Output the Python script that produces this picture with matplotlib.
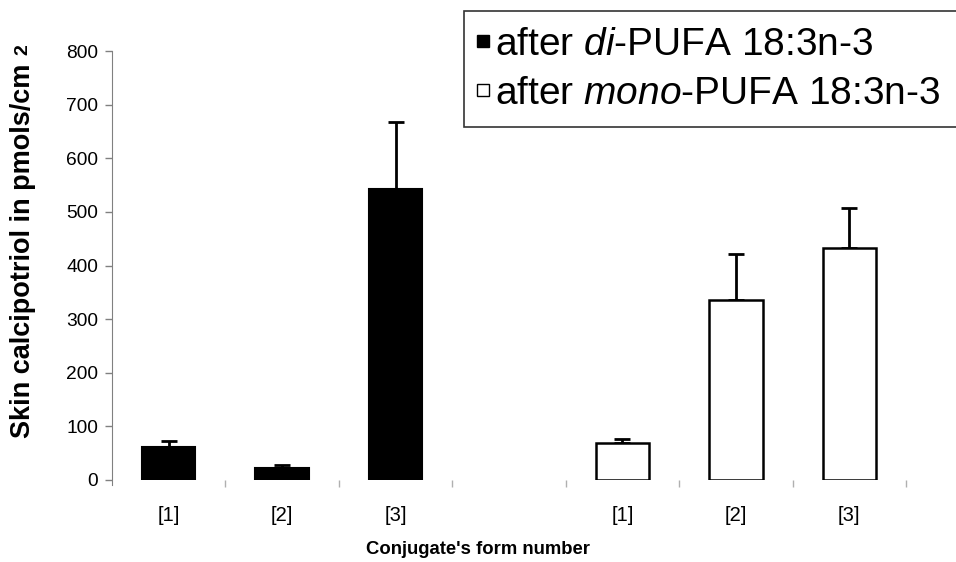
import matplotlib
matplotlib.use("Agg")
import matplotlib.pyplot as plt
from matplotlib.lines import Line2D
import numpy as np

plt.rcParams['font.family'] = ['Liberation Sans', 'DejaVu Sans']
plt.rcParams['mathtext.fontset'] = 'custom'
plt.rcParams['mathtext.it'] = 'Liberation Sans:italic'
plt.rcParams['mathtext.rm'] = 'Liberation Sans'

# data
forms = ['[1]', '[2]', '[3]']
di_vals = [62, 22, 542]
di_err = [11, 6, 126]
mono_vals = [69, 335, 433]
mono_err = [8, 86, 75]

fig = plt.figure(figsize=(9.56, 5.62), dpi=100)
ax = fig.add_axes([112/956, 1-480/562, 794/956, 429/562])

x_di = np.arange(3)
x_mono = np.arange(3) + 4
bw = 0.47

ax.bar(x_di, di_vals, width=bw, color='black', edgecolor='black', linewidth=1.5, zorder=2)
ax.bar(x_mono, mono_vals, width=bw, color='white', edgecolor='black', linewidth=1.8, zorder=2)
ax.errorbar(x_di, di_vals, yerr=[np.zeros(3), di_err], fmt='none', ecolor='black',
            elinewidth=2, capsize=5.8, capthick=2, zorder=1)
ax.errorbar(x_mono, mono_vals, yerr=[np.zeros(3), mono_err], fmt='none', ecolor='black',
            elinewidth=2, capsize=5.8, capthick=2, zorder=1)

ax.set_xlim(-0.5, 6.5)
ax.set_ylim(0, 800)
ax.set_yticks(np.arange(0, 801, 100))
ax.tick_params(axis='y', labelsize=13.8, color='#808080', length=5, width=1, pad=5)

ax.set_xticks(list(x_di) + list(x_mono))
ax.set_xticklabels(forms + forms, fontsize=14.5)
ax.tick_params(axis='x', length=0, pad=19)
ax.set_xticks(np.arange(0.5, 7, 1), minor=True)
ax.tick_params(axis='x', which='minor', length=5, color='#b0b0b0', width=1)

for s in ['top', 'right', 'bottom']:
    ax.spines[s].set_visible(False)
ax.spines['left'].set_color('#808080')
ax.spines['left'].set_bounds(-10, 800)

ax.set_ylabel('Skin calcipotriol in pmols/cm', fontsize=19.5, fontweight='bold')
ax.yaxis.set_label_coords((36-112)/794, 0.535)
fig.text(23/956, 1-50/562, '2', rotation=90, fontsize=14, fontweight='bold',
         ha='center', va='center')
ax.set_xlabel("Conjugate's form number", fontsize=13.3, fontweight='bold')
ax.xaxis.set_label_coords((478-112)/794, -(541-480)/429)

handles = [Line2D([], [], linestyle='none', marker='s', markersize=8,
                  markerfacecolor='black', markeredgecolor='black', markeredgewidth=1),
           Line2D([], [], linestyle='none', marker='s', markersize=8,
                  markerfacecolor='white', markeredgecolor='black', markeredgewidth=1)]
labels = ['after $\\it{di}$-PUFA 18:3n-3', 'after $\\it{mono}$-PUFA 18:3n-3']
leg = fig.legend(handles, labels, loc='upper left', mode='expand',
                 bbox_to_anchor=(464/956, 1-11/562, 560/956, 0.0),
                 bbox_transform=fig.transFigure, fontsize=28, frameon=True,
                 fancybox=False, edgecolor='black', handlelength=0.2,
                 handletextpad=0.2, labelspacing=0.34, borderpad=0.4, borderaxespad=0)
leg.get_frame().set_linewidth(1.2)

fig.savefig('out.png', dpi=100)
